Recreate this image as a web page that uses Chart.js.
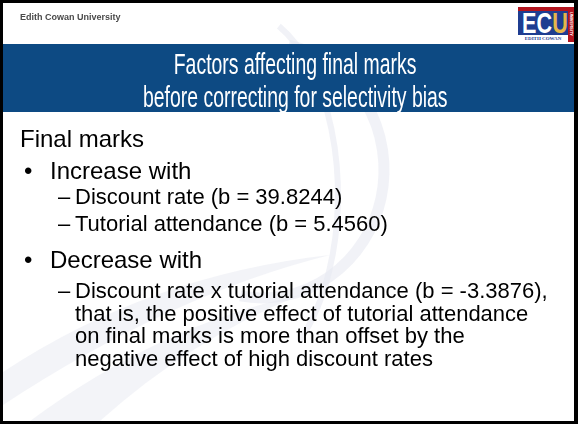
<!DOCTYPE html>
<html lang="en">
<head>
<meta charset="UTF-8">
<title>Factors affecting final marks</title>
<style>
    body { margin: 0; background: #fff; }
    #slide { position: relative; width: 578px; height: 424px; overflow: hidden; font-family: "Liberation Sans", Arial, sans-serif; }
    #bg { position: absolute; left: 0; top: 0; }
    .t { position: absolute; white-space: nowrap; color: #000; }
</style>
</head>
<body>
<div id="slide">
    <canvas id="bg" width="578" height="424"></canvas>
</div>
<script src="https://cdn.jsdelivr.net/npm/chart.js@4.4.1/dist/chart.umd.min.js"></script>
<script>
    // slide content
    const header = 'Edith Cowan University'
    const titleLines = ['Factors affecting final marks', 'before correcting for selectivity bias']
    const heading = 'Final marks'
    const increaseFactors = ['Discount rate', 'Tutorial attendance']
    const increaseCoefs = [39.8244, 5.4560]
    const decreaseFactors = ['Discount rate x tutorial attendance']
    const decreaseCoefs = [-3.3876]
    const noteLines = ['that is, the positive effect of tutorial attendance',
                       'on final marks is more than offset by the',
                       'negative effect of high discount rates']

    const slide = document.getElementById('slide')

    // put one line of text so its baseline sits at y
    function put(text, x, baseline, size, style) {
        const d = document.createElement('div')
        d.className = 't'
        d.textContent = text
        d.style.left = x + 'px'
        d.style.top = (baseline - 0.8465 * size) + 'px'
        d.style.fontSize = size + 'px'
        d.style.lineHeight = size + 'px'
        Object.assign(d.style, style || {})
        slide.appendChild(d)
        return d
    }

    // background: frame, faint swooshes, title band
    const slideBackground = {
        id: 'slideBackground',
        beforeDraw(chart) {
            const c = chart.ctx
            c.save()
            c.fillStyle = '#000'
            c.fillRect(0, 0, 578, 424)
            c.fillStyle = '#fff'
            c.fillRect(3, 3, 571, 418)

            c.fillStyle = 'rgba(232,234,241,0.5)'
            c.beginPath()
            c.moveTo(3, 372)
            c.quadraticCurveTo(150, 275, 330, 255)
            c.quadraticCurveTo(170, 295, 3, 405)
            c.closePath()
            c.fill()
            c.beginPath()
            c.moveTo(30, 421)
            c.quadraticCurveTo(160, 325, 300, 295)
            c.quadraticCurveTo(190, 340, 100, 421)
            c.closePath()
            c.fill()

            c.strokeStyle = 'rgba(232,234,241,0.6)'
            c.lineWidth = 11
            c.beginPath()
            c.ellipse(262, 170, 122, 128, 0, -1.35, 1.75)
            c.stroke()
            c.lineWidth = 6
            c.beginPath()
            c.ellipse(238, 195, 100, 185, 0, -1.15, 0.9)
            c.stroke()

            c.fillStyle = '#0d4a83'
            c.fillRect(3, 44, 571, 68)
            c.restore()
        }
    }

    new Chart(document.getElementById('bg'), {
        type: 'scatter',
        data: { datasets: [] },
        options: {
            responsive: false,
            animation: false,
            events: [],
            layout: { padding: 0 },
            scales: { x: { display: false }, y: { display: false } },
            plugins: { legend: { display: false }, tooltip: { enabled: false } }
        },
        plugins: [slideBackground]
    })

    // header
    put(header, 20, 21, 9, { fontWeight: 'bold', color: '#4a4a4a' })

    // logo
    function box(x, y, w, h, bg) {
        const d = document.createElement('div')
        Object.assign(d.style, { position: 'absolute', left: x + 'px', top: y + 'px', width: w + 'px', height: h + 'px', background: bg, overflow: 'hidden' })
        slide.appendChild(d)
        return d
    }
    box(518, 7, 50, 4, '#b3141e')
    const logo = box(518, 11, 50, 24, '#1f3d91')
    logo.innerHTML = '<div style="position:absolute;left:-4px;top:-3px;width:58px;text-align:center;font:bold 30px/30px \'Liberation Sans\',Arial;color:#fff;transform:scaleX(0.72)">EC<span style="color:#e6b54a">U</span></div>'
    const strip = box(518, 35, 50, 7, '#fff')
    strip.innerHTML = '<div style="font:bold 5px/7px \'Liberation Serif\',serif;color:#1f3d91;text-align:center;white-space:nowrap">EDITH COWAN</div>'
    const side = box(568, 7, 6, 35, '#b3141e')
    side.innerHTML = '<div style="position:absolute;left:-15px;top:14px;width:36px;transform:rotate(90deg);font:bold 4px/6px \'Liberation Sans\',Arial;color:#fff;text-align:center">UNIVERSITY</div>'

    // title
    titleLines.forEach(function (line, i) {
        const d = put('', 0, 75 + i * 33, 29, { width: '590px', textAlign: 'center', color: '#fff' })
        const s = document.createElement('span')
        s.textContent = line
        s.style.display = 'inline-block'
        s.style.transform = 'scaleX(0.67)'
        d.appendChild(s)
    })

    // body
    put(heading, 20, 147, 24)
    put('\u2022', 24, 179, 24)
    put('Increase with', 50, 179, 24)
    increaseFactors.forEach(function (f, i) {
        const y = 205 + i * 27
        put('\u2013', 58, y, 22)
        put(f + ' (b = ' + increaseCoefs[i].toFixed(4) + ')', 75, y, 22)
    })
    put('\u2022', 24, 268, 24)
    put('Decrease with', 50, 268, 24)
    decreaseFactors.forEach(function (f, i) {
        put('\u2013', 58, 299, 22)
        put(f + ' (b = ' + decreaseCoefs[i].toFixed(4) + '),', 75, 299, 22)
    })
    noteLines.forEach(function (line, i) {
        put(line, 75, 321.5 + i * 22.5, 22)
    })
</script>
</body>
</html>
